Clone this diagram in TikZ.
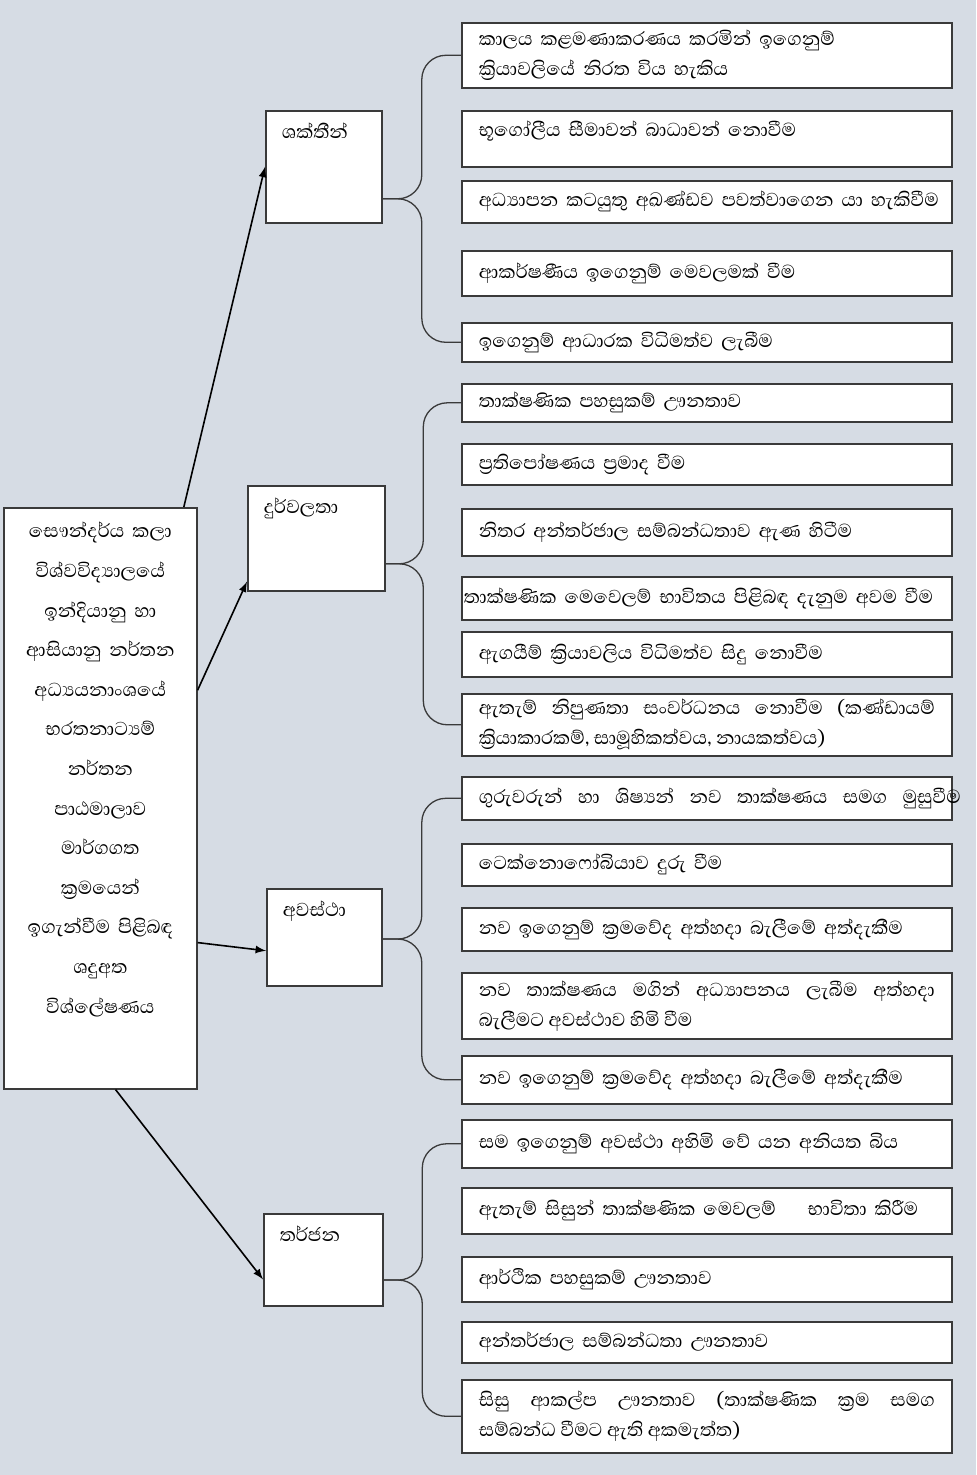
\documentclass[tikz,border=0pt]{standalone}
\usepackage{fontspec}
\setmainfont[Script=Sinhala]{Abhaya Libre}
\usepackage{xcolor}
\usetikzlibrary{positioning, calc, arrows}
\definecolor{canvas}{HTML}{D6DCE4}
\definecolor{frame}{HTML}{3A3A3A}
\tikzstyle{link} = [line width=0.8pt,->,>=latex]
\tikzstyle{brace} = [line width=0.65pt, draw=frame, rounded corners=12pt]

\begin{document}
\begin{tikzpicture}[
    x=0.5pt, y=-0.5pt,
    every node/.style={font=\fontsize{12}{15}\selectfont},
    item/.style={rectangle, draw=frame, line width=0.8pt, fill=white, anchor=north west, text width=228pt, inner xsep=8.5pt, inner ysep=2pt, align=left},
    head/.style={rectangle, draw=frame, line width=0.8pt, fill=white, anchor=north west, align=left, inner xsep=8pt, inner ysep=4pt, text height=10pt}
]
    \fill[canvas] (0,0) rectangle (976,1475);
    \useasboundingbox (0,0) rectangle (976,1475);

    % Main box
    \node[rectangle, draw=frame, line width=0.8pt, fill=white, anchor=north west, align=center, text width=88.5pt, inner xsep=4pt, inner ysep=4pt, text height=11pt, text depth=271.5pt, font=\fontsize{12}{19.8}\selectfont] (swot) at (3,507)
        {සෞන්දර්ය කලා\\ විශ්වවිද්^^^^200dයාලයේ\\ ඉන්දියානු හා\\ ආසියානු නර්තන\\ අධ්^^^^200dයයනාංශයේ\\ භරතනාට්^^^^200dයම්\\ නර්තන\\ පාඨමාලාව\\ මාර්ගගත\\ ක්^^^^200dරමයෙන්\\ ඉගැන්වීම පිළිබඳ\\ ශදුඅත\\ විශ්ලේෂණය};

    % Four headings
    \node[head, text width=42pt, text depth=38pt] (str) at (265,110) {ශක්තීන්};
    \node[head, text width=52.5pt, text depth=34.5pt] (weak) at (247,485) {දුර්වලතා};
    \node[head, text width=41.5pt, text depth=30.5pt] (opp) at (266,888) {අවස්ථා};
    \node[head, text width=43.5pt, text depth=28pt] (thr) at (263,1213) {තර්ජන};

    % Strengths
    \node[item, minimum height=32.5pt] (s1) at (461,22) {කාලය කළමණාකරණය කරමින් ඉගෙනුම්\\ ක්^^^^200dරියාවලියේ නිරත විය හැකිය};
    \node[item, minimum height=28pt, text depth=10pt] (s2) at (461,110) {භූගෝලීය සීමාවන් බාධාවන් නොවීම};
    \node[item, minimum height=21pt] (s3) at (461,180) {\mbox{අධ්^^^^200dයාපන කටයුතු අඛණ්ඩව පවත්වාගෙන යා හැකිවීම}};
    \node[item, minimum height=22.5pt] (s4) at (461,250) {ආකර්ෂණීය ඉගෙනුම් මෙවලමක් වීම};
    \node[item, minimum height=19.5pt] (s5) at (461,322) {ඉගෙනුම් ආධාරක විධිමත්ව ලැබීම};

    % Weaknesses
    \node[item, minimum height=19pt] (w1) at (461,383) {තාක්ෂණික පහසුකම් ඌනතාව};
    \node[item, minimum height=20.5pt] (w2) at (461,443) {ප්^^^^200dරතිපෝෂණය ප්^^^^200dරමාද වීම};
    \node[item, minimum height=23.5pt] (w3) at (461,508) {නිතර අන්තර්ජාල සම්බන්ධතාව ඇණ හිටීම};
    \node[item, minimum height=21.5pt, text width=243pt, inner xsep=1pt] (w4) at (461,576) {\mbox{තාක්ෂණික මෙවෙලම් භාවිතය පිළිබඳ දැනුම අවම වීම}};
    \node[item, minimum height=22.5pt] (w5) at (461,631) {ඇගයීම් ක්^^^^200dරියාවලිය විධිමත්ව සිදු නොවීම};
    \node[item, minimum height=31pt, align=justify] (w6) at (461,693) {ඇතැම් නිපුණතා සංවර්ධනය නොවීම (කණ්ඩායම්\linebreak ක්^^^^200dරියාකාරකම්, සාමූහිකත්වය, නායකත්වය)};

    % Opportunities
    \node[item, minimum height=21.5pt] (o1) at (461,776) {\hbox to 241pt{ගුරුවරුන්\hfill හා\hfill ශිෂ්^^^^200dයන්\hfill නව\hfill තාක්ෂණය\hfill සමග\hfill මුසුවීම}};
    \node[item, minimum height=21pt] (o2) at (461,843) {ටෙක්නොෆෝබියාව දුරු වීම};
    \node[item, minimum height=21.5pt] (o3) at (461,907) {නව ඉගෙනුම් ක්^^^^200dරමවේද අත්හදා බැලීමේ අත්දැකීම};
    \node[item, minimum height=33pt, align=justify] (o4) at (461,972) {නව තාක්ෂණය මගින් අධ්^^^^200dයාපනය ලැබීම අත්හදා\linebreak බැලීමට අවස්ථාව හිමි වීම};
    \node[item, minimum height=24pt] (o5) at (461,1055) {නව ඉගෙනුම් ක්^^^^200dරමවේද අත්හදා බැලීමේ අත්දැකීම};

    % Threats
    \node[item, minimum height=24pt] (t1) at (461,1119) {සම ඉගෙනුම් අවස්ථා අහිමි වේ යන අනියත බිය};
    \node[item, minimum height=23pt] (t2) at (461,1187) {ඇතැම් සිසුන් තාක්ෂණික මෙවලම්\hspace{12pt} භාවිතා කිරීම};
    \node[item, minimum height=22.5pt] (t3) at (461,1256) {ආර්ථික පහසුකම් ඌනතාව};
    \node[item, minimum height=20.5pt] (t4) at (461,1321) {අන්තර්ජාල සම්බන්ධතා ඌනතාව};
    \node[item, minimum height=36.5pt, align=justify] (t5) at (461,1379) {සිසු ආකල්ප ඌනතාව (තාක්ෂණික ක්^^^^200dරම සමග\linebreak සම්බන්ධ වීමට ඇති අකමැත්ත)};

    % Braces
    \coordinate (sm) at ($(s1.west)!.5!(s5.west)$);
    \draw[brace] (s1.west) -| ($(sm)!.5!(str.east |- sm)$) -- (str.east |- sm);
    \draw[brace] (s5.west) -| ($(sm)!.5!(str.east |- sm)$) -- (str.east |- sm);
    \coordinate (wm) at ($(w1.west)!.5!(w6.west)$);
    \draw[brace] (w1.west) -| ($(wm)!.5!(weak.east |- wm)$) -- (weak.east |- wm);
    \draw[brace] (w6.west) -| ($(wm)!.5!(weak.east |- wm)$) -- (weak.east |- wm);
    \coordinate (om) at ($(o1.west)!.5!(o5.west)$);
    \draw[brace] (o1.west) -| ($(om)!.5!(opp.east |- om)$) -- (opp.east |- om);
    \draw[brace] (o5.west) -| ($(om)!.5!(opp.east |- om)$) -- (opp.east |- om);
    \coordinate (tm) at ($(t1.west)!.5!(t5.west)$);
    \draw[brace] (t1.west) -| ($(tm)!.5!(thr.east |- tm)$) -- (thr.east |- tm);
    \draw[brace] (t5.west) -| ($(tm)!.5!(thr.east |- tm)$) -- (thr.east |- tm);

    % Arrows
    \draw[link] (swot.74.5) -- (str.west);
    \draw[link] (swot.48) -- (weak.212);
    \draw[link] (swot.-56.3) -- (opp.193);
    \draw[link] (swot.-87) -- (thr.198);
\end{tikzpicture}
\end{document}
